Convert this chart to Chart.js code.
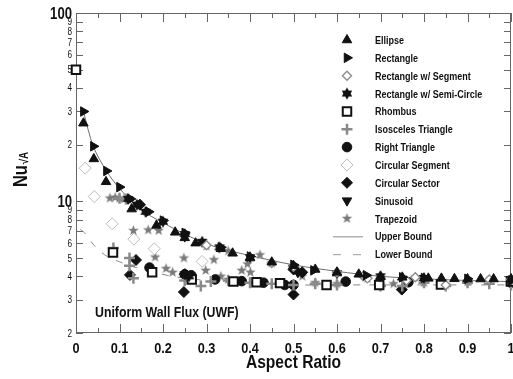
<!DOCTYPE html>
<html>
<head>
<meta charset="utf-8">
<script src="https://cdn.jsdelivr.net/npm/chart.js@4.4.1/dist/chart.umd.min.js"></script>
<style>
  html, body { margin: 0; padding: 0; background: #fff; }
  canvas { display: block; }
</style>
</head>
<body>
<canvas id="nuChart" width="513" height="379"></canvas>
<script>
const FONT = '"Liberation Sans", Arial, Helvetica, sans-serif';
const SX = 0.82; // the original lettering is a narrow bold face

// tick values
const yTickValues = [2, 3, 4, 5, 6, 7, 8, 9, 10, 20, 30, 40, 50, 60, 70, 80, 90, 100];
const xTickValues = [0, 0.1, 0.2, 0.3, 0.4, 0.5, 0.6, 0.7, 0.8, 0.9, 1];

// data: [aspect ratio, Nu]
const ellipse = [[0.017, 26], [0.041, 16.8], [0.069, 12.7], [0.128, 9.1], [0.185, 7.45], [0.228, 6.85], [0.25, 6.4],
  [0.275, 6.0], [0.333, 5.6], [0.36, 5.3], [0.4, 5.0], [0.45, 4.75], [0.5, 4.55], [0.55, 4.35], [0.6, 4.2],
  [0.65, 4.1], [0.7, 3.98], [0.75, 3.95], [0.81, 3.9], [0.84, 3.9], [0.87, 3.88], [0.9, 3.87], [0.93, 3.87],
  [0.96, 3.87], [1.0, 3.87]];
const rectangle = [[0.017, 30], [0.04, 19.6], [0.07, 14.5], [0.1, 11.9], [0.125, 10.3], [0.167, 8.8], [0.2, 7.9],
  [0.25, 6.8], [0.333, 5.7], [0.4, 5.1], [0.5, 4.6], [0.546, 4.3], [0.667, 4.05], [0.75, 3.95], [0.8, 3.92],
  [0.9, 3.88], [1.0, 3.8]];
const rectSegment = [[0.3, 5.85], [0.45, 4.7], [0.5, 4.5], [0.6, 4.2], [0.66, 4.0], [0.67, 3.9], [0.76, 3.8],
  [0.78, 3.95], [0.85, 3.6], [0.95, 3.85], [1.0, 3.85]];
const rectSemiCircle = [[0.12, 10.3], [0.14, 9.6], [0.16, 8.8], [0.2, 7.8], [0.25, 6.7], [0.29, 6.1], [0.33, 5.7],
  [0.4, 5.05], [0.5, 4.45], [0.51, 4.25], [0.6, 4.15], [0.7, 4.0], [0.8, 3.92], [1.0, 3.82], [0.25, 4.1], [0.26, 4.0]];
const rhombus = [[0, 50], [0.085, 5.35], [0.175, 4.2], [0.266, 3.85], [0.362, 3.75], [0.415, 3.72], [0.469, 3.68],
  [0.576, 3.6], [0.697, 3.6], [0.839, 3.62], [1.0, 3.75]];
const isoscelesTriangle = [[0.086, 5.65], [0.1, 10.4], [0.115, 10.3], [0.123, 5.0], [0.123, 4.55], [0.132, 3.9],
  [0.25, 3.8], [0.287, 3.55], [0.31, 3.75], [0.35, 3.8], [0.4, 3.7], [0.45, 3.65], [0.5, 3.6], [0.55, 3.65],
  [0.6, 3.6], [0.7, 3.55], [0.75, 3.55], [0.8, 3.7], [0.85, 3.55], [0.9, 3.7], [0.95, 3.65], [1.0, 3.6]];
const rightTriangle = [[0.169, 4.45], [0.25, 4.1], [0.265, 4.05], [0.32, 3.85], [0.381, 3.77], [0.431, 3.7],
  [0.48, 3.6], [0.5, 3.6], [0.62, 3.75], [0.764, 3.72], [1.0, 3.7]];
const circularSegment = [[0.021, 15.0], [0.042, 10.6], [0.083, 7.6], [0.133, 6.3], [0.18, 5.6], [0.29, 4.8]];
const circularSector = [[0.124, 4.07], [0.138, 4.88], [0.147, 9.6], [0.248, 3.3], [0.25, 4.1], [0.5, 4.35],
  [0.52, 4.2], [0.5, 3.2], [0.749, 3.4]];
const sinusoid = [[0.25, 6.5], [0.5, 4.4], [0.51, 4.2], [1.0, 3.85]];
const trapezoid = [[0.078, 10.4], [0.09, 10.5], [0.1, 10.4], [0.11, 10.3], [0.12, 10.2], [0.132, 7.0],
  [0.166, 7.05], [0.19, 7.0], [0.182, 5.06], [0.207, 4.4], [0.222, 4.2], [0.248, 5.0], [0.264, 3.96],
  [0.298, 4.3], [0.3, 5.8], [0.317, 4.9], [0.333, 4.0], [0.35, 3.85], [0.35, 5.45], [0.381, 4.3], [0.394, 4.65],
  [0.401, 4.2], [0.423, 5.2], [0.45, 4.7], [0.5, 3.6], [0.52, 4.0], [0.55, 3.7], [0.6, 3.65], [0.67, 3.9],
  [0.7, 3.6], [0.73, 3.65], [0.78, 3.95], [0.8, 3.7], [0.85, 3.6], [0.9, 3.75], [0.95, 3.8], [1.0, 3.9]];
const upperBound = [[0.017, 30], [0.04, 19.5], [0.07, 14.5], [0.1, 11.7], [0.15, 9.0], [0.2, 7.7], [0.25, 6.7],
  [0.3, 5.95], [0.35, 5.5], [0.4, 5.15], [0.5, 4.6], [0.6, 4.25], [0.7, 4.0], [0.8, 3.88], [0.9, 3.8], [1.0, 3.75]];
const lowerBound = [[0.01, 7.1], [0.02, 6.8], [0.044, 5.75], [0.07, 5.13], [0.109, 4.69], [0.14, 4.44],
  [0.216, 4.02], [0.3, 3.8], [0.4, 3.68], [0.5, 3.6], [0.6, 3.6], [0.7, 3.6], [0.8, 3.6], [0.9, 3.6], [1.0, 3.6]];

// custom marker images
function starImage(points, outerR, innerR, color) {
  const c = document.createElement('canvas');
  const s = Math.ceil(outerR * 2 + 2);
  c.width = c.height = s;
  const g = c.getContext('2d');
  g.fillStyle = color;
  g.beginPath();
  for (let i = 0; i < points * 2; i++) {
    const r = i % 2 ? innerR : outerR;
    const a = -Math.PI / 2 + i * Math.PI / points;
    g.lineTo(s / 2 + r * Math.cos(a), s / 2 + r * Math.sin(a));
  }
  g.closePath();
  g.fill();
  return c;
}
const hexagram = starImage(6, 6, 3.6, '#111');
const grayStar = starImage(5, 5.5, 2.3, '#7a7a7a');

const toXY = arr => arr.map(p => ({ x: p[0], y: p[1] }));

const series = [
  { label: 'Ellipse', data: ellipse, pointStyle: 'triangle', radius: 5.5, bg: '#111', border: '#111', bw: 1 },
  { label: 'Rectangle', data: rectangle, pointStyle: 'triangle', rotation: 90, radius: 5.5, bg: '#111', border: '#111', bw: 1 },
  { label: 'Rectangle w/ Segment', data: rectSegment, pointStyle: 'rectRot', radius: 4.5, bg: '#fff', border: '#8c8c8c', bw: 1.4 },
  { label: 'Rectangle w/ Semi-Circle', data: rectSemiCircle, pointStyle: hexagram, radius: 6 },
  { label: 'Rhombus', data: rhombus, pointStyle: 'rect', radius: 6, bg: '#fff', border: '#111', bw: 2 },
  { label: 'Isosceles Triangle', data: isoscelesTriangle, pointStyle: 'cross', radius: 5.5, bg: '#8a8a8a', border: '#8a8a8a', bw: 2.5 },
  { label: 'Right Triangle', data: rightTriangle, pointStyle: 'circle', radius: 4.8, bg: '#111', border: '#111', bw: 1 },
  { label: 'Circular Segment', data: circularSegment, pointStyle: 'rectRot', radius: 6, bg: '#fff', border: '#bdbdbd', bw: 1 },
  { label: 'Circular Sector', data: circularSector, pointStyle: 'rectRot', radius: 5.5, bg: '#111', border: '#111', bw: 1 },
  { label: 'Sinusoid', data: sinusoid, pointStyle: 'triangle', rotation: 180, radius: 5.5, bg: '#111', border: '#111', bw: 1 },
  { label: 'Trapezoid', data: trapezoid, pointStyle: grayStar, radius: 5.5 }
];

const datasets = series.map(s => ({
  label: s.label,
  data: toXY(s.data),
  pointStyle: s.pointStyle,
  pointRotation: s.rotation || 0,
  pointRadius: s.radius,
  backgroundColor: s.bg || '#111',
  borderColor: s.border || '#111',
  borderWidth: s.bw || 0,
  showLine: false,
  clip: false
}));
datasets.push({
  label: 'Upper Bound', data: toXY(upperBound), showLine: true, pointRadius: 0,
  borderColor: '#6e6e6e', borderWidth: 1, tension: 0.3, order: 5
});
datasets.push({
  label: 'Lower Bound', data: toXY(lowerBound), showLine: true, pointRadius: 0,
  borderColor: '#8a8a8a', borderWidth: 1, borderDash: [7, 9], tension: 0.3, order: 5
});

// narrow text helper
function narrowText(ctx, str, x, y, font, align, baseline) {
  ctx.save();
  ctx.translate(x, y);
  ctx.scale(SX, 1);
  ctx.font = font;
  ctx.textAlign = align || 'left';
  ctx.textBaseline = baseline || 'alphabetic';
  ctx.fillStyle = '#111';
  ctx.fillText(str, 0, 0);
  ctx.restore();
}

// border, inward ticks and tick labels like the original plot
const frameTicks = {
  id: 'frameTicks',
  beforeDatasetsDraw(chart) {
    const { ctx, chartArea: a, scales: { x, y } } = chart;
    ctx.save();
    ctx.strokeStyle = '#666';
    ctx.lineWidth = 1;
    ctx.strokeRect(a.left + 0.5, a.top + 0.5, a.right - a.left - 1, a.bottom - a.top - 1);
    ctx.beginPath();
    yTickValues.forEach(v => {
      const py = Math.round(y.getPixelForValue(v)) + 0.5;
      ctx.moveTo(a.left, py); ctx.lineTo(a.left + 7, py);
      ctx.moveTo(a.right, py); ctx.lineTo(a.right - 7, py);
    });
    for (let i = 0; i <= 20; i++) {
      const px = Math.round(x.getPixelForValue(i * 0.05)) + 0.5;
      const len = i % 2 === 0 ? 9 : 5;
      ctx.moveTo(px, a.bottom); ctx.lineTo(px, a.bottom - len);
      ctx.moveTo(px, a.top); ctx.lineTo(px, a.top + len);
    }
    ctx.stroke();
    ctx.restore();

    yTickValues.forEach(v => {
      const major = v === 10 || v === 100;
      const lbl = major ? String(v) : String(Math.round(v / Math.pow(10, Math.floor(Math.log10(v) + 1e-9))));
      const py = y.getPixelForValue(v);
      if (major) narrowText(ctx, lbl, 72, py + 6, 'bold 16px ' + FONT, 'right');
      else narrowText(ctx, lbl, 72, py + 3.5, '10px ' + FONT, 'right');
    });
    xTickValues.forEach(v => {
      narrowText(ctx, String(v), x.getPixelForValue(v), 353, 'bold 15.5px ' + FONT, 'center');
    });
    narrowText(ctx, 'Aspect Ratio', (a.left + a.right) / 2, 368, 'bold 19px ' + FONT, 'center');
  }
};

// legend inside the plot, y-title with subscript, condition note
const extras = {
  id: 'extras',
  afterDraw(chart) {
    const { ctx } = chart;
    const drawPoint = Chart.helpers && Chart.helpers.drawPoint;
    ctx.save();
    const names = series.map(s => s.label).concat(['Upper Bound', 'Lower Bound']);
    names.forEach((name, i) => {
      const yy = 40 + i * 17.85;
      const s = series[i];
      if (s && drawPoint) {
        ctx.fillStyle = s.bg || '#111';
        ctx.strokeStyle = s.border || '#111';
        ctx.lineWidth = s.bw || 0;
        drawPoint(ctx, { pointStyle: s.pointStyle, rotation: s.rotation || 0, radius: s.radius, borderWidth: s.bw || 0 }, 347, yy);
      } else if (name === 'Upper Bound') {
        ctx.strokeStyle = '#8a8a8a'; ctx.lineWidth = 1;
        ctx.beginPath(); ctx.moveTo(333, yy + 0.5); ctx.lineTo(363, yy + 0.5); ctx.stroke();
      } else if (name === 'Lower Bound') {
        ctx.strokeStyle = '#9a9a9a'; ctx.lineWidth = 1;
        ctx.beginPath();
        ctx.moveTo(333, yy + 0.5); ctx.lineTo(341, yy + 0.5);
        ctx.moveTo(353, yy + 0.5); ctx.lineTo(361, yy + 0.5);
        ctx.stroke();
      }
      narrowText(ctx, name, 375, yy + 4, 'bold 11px ' + FONT, 'left');
    });

    narrowText(ctx, 'Uniform Wall Flux (UWF)', 95, 317, 'bold 15px ' + FONT, 'left');

    // Nu with sqrt(A) subscript, rotated
    ctx.translate(27, 187);
    ctx.rotate(-Math.PI / 2);
    ctx.scale(SX, 1);
    ctx.fillStyle = '#111';
    ctx.textBaseline = 'alphabetic';
    ctx.font = 'bold 20px ' + FONT;
    ctx.fillText('Nu', 0, 0);
    const w = ctx.measureText('Nu').width;
    ctx.font = 'bold 12px ' + FONT;
    ctx.fillText('\u221AA', w + 1, 1);
    ctx.restore();
  }
};

new Chart(document.getElementById('nuChart'), {
  type: 'scatter',
  data: { datasets },
  options: {
    responsive: false,
    animation: false,
    layout: { autoPadding: false, padding: { top: 13, right: 2, left: 0, bottom: 0 } },
    plugins: { legend: { display: false }, tooltip: { enabled: false } },
    scales: {
      x: {
        type: 'linear', min: 0, max: 1,
        grid: { display: false, drawTicks: false },
        border: { display: false },
        ticks: { display: false, stepSize: 0.1 },
        afterFit(scale) { scale.height = 46; scale.paddingRight = 0; scale.paddingLeft = 0; }
      },
      y: {
        type: 'logarithmic', min: 2, max: 100,
        grid: { display: false, drawTicks: false },
        border: { display: false },
        afterBuildTicks(scale) { scale.ticks = yTickValues.map(v => ({ value: v })); },
        ticks: { display: false },
        afterFit(scale) { scale.width = 76; }
      }
    }
  },
  plugins: [frameTicks, extras]
});
</script>
</body>
</html>
